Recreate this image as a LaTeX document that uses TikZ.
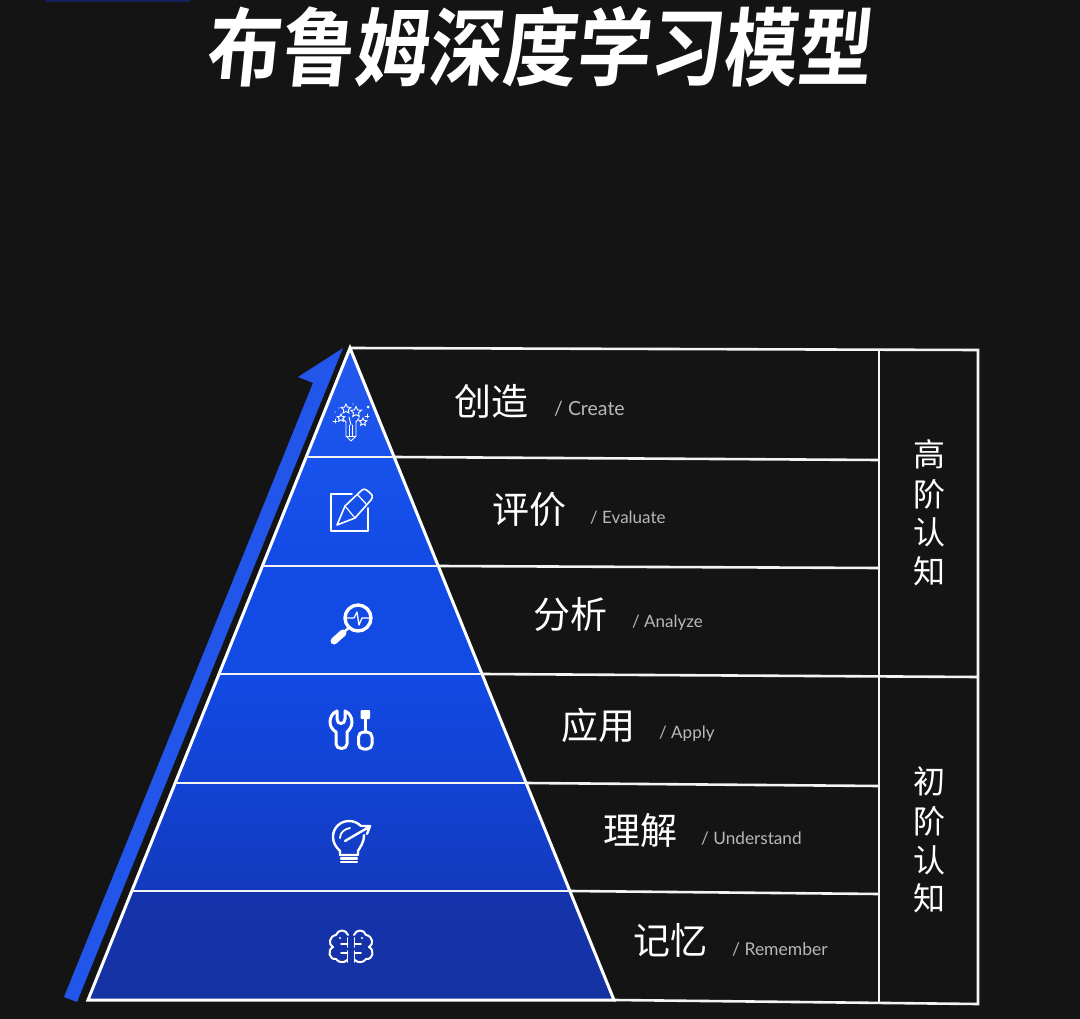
\documentclass[tikz,border=0pt]{standalone}
\usepackage{fontspec}
\usepackage{graphicx}
\usetikzlibrary{shapes.geometric}
\setmainfont{Lato}
\newfontfamily\cjk{Noto Sans CJK SC}
\newfontfamily\cjktitle[FakeSlant=0.12]{Noto Sans CJK SC Bold}
\definecolor{bg}{HTML}{141414}
\definecolor{arrowblue}{HTML}{2255EA}
\definecolor{subgray}{HTML}{B8B8B8}
\definecolor{lineW}{HTML}{F4F4F4}
\definecolor{navy}{HTML}{14205A}
\definecolor{bandA}{HTML}{2559EC}
\definecolor{bandB}{HTML}{1852EC}
\definecolor{bandC}{HTML}{124AE4}
\definecolor{bandD}{HTML}{1242D2}
\definecolor{bandE}{HTML}{133ABE}
\definecolor{bandF}{HTML}{1534AC}
\definecolor{bandG}{HTML}{1532A2}
\tikzset{
  rule/.style={draw=lineW,line width=2.6pt},
  pyr/.style={draw=white,line width=3pt,line join=miter},
  cn/.style={text=white,font=\cjk\fontsize{37}{37}\selectfont,anchor=center,inner sep=0pt},
  en/.style={text=subgray,font=\fontsize{17}{17}\selectfont,anchor=west,inner sep=0pt},
  side/.style={text=white,font=\cjk\fontsize{32}{32}\selectfont,anchor=center,inner sep=0pt},
  ico/.style={draw=white,line cap=round,line join=round,line width=2.4pt},
  icothin/.style={draw=white,line cap=round,line join=round,line width=.9pt},
  stari/.style={star,star points=5,star point ratio=2.1,draw=white,line width=.9pt,inner sep=0pt,minimum size=#1},
}
\begin{document}
\begin{tikzpicture}[x=1pt,y=-1pt]
\useasboundingbox (0,0) rectangle (1080,1019);
\fill[bg] (0,0) rectangle (1080,1019);
\fill[navy] (45,0) rectangle (190,2);
% title
\node[text=white,inner sep=0pt,anchor=center] (title) at (538,47)
  {\scalebox{1}[1.15]{\cjktitle\fontsize{74}{74}\selectfont 布鲁姆深度学习模型}};
% rising arrow
\fill[arrowblue] (64,997) -- (77,1002) -- (343,348) -- (298,377) -- (313,383) -- cycle;
% pyramid bands
\shade[top color=bandA,bottom color=bandB] (350,348) -- (306,457) -- (394,457) -- cycle;
\shade[top color=bandB,bottom color=bandC] (306,457) -- (262,566) -- (438,566) -- (394,457) -- cycle;
\shade[top color=bandC,bottom color=bandC] (262,566) -- (219,674) -- (482,674) -- (438,566) -- cycle;
\shade[top color=bandC,bottom color=bandD] (219,674) -- (175,783) -- (526,783) -- (482,674) -- cycle;
\shade[top color=bandD,bottom color=bandE] (175,783) -- (132,891) -- (570,891) -- (526,783) -- cycle;
\shade[top color=bandF,bottom color=bandG] (132,891) -- (88,1000) -- (614,1000) -- (570,891) -- cycle;
% table rules
\draw[rule] (350,348) -- (978,350) -- (978,1004) -- (614,1000);
\draw[rule] (879,350) -- (879,1003);
\draw[rule] (394,457) -- (879,460);
\draw[rule] (438,566) -- (879,568);
\draw[rule] (482,674) -- (978,677);
\draw[rule] (526,783) -- (879,786);
\draw[rule] (570,891) -- (879,894);
% pyramid outline and bands
\draw[pyr] (350,348) -- (88,1000) -- (614,1000) -- cycle;
\draw[rule] (306,457) -- (394,457);
\draw[rule] (262,566) -- (438,566);
\draw[rule] (219,674) -- (482,674);
\draw[rule] (175,783) -- (526,783);
\draw[rule] (132,891) -- (570,891);
% labels
\node[cn] (l1) at (491,401) {创造};
\node[cn] (l2) at (529,510) {评价};
\node[cn] (l3) at (570,614) {分析};
\node[cn] (l4) at (598,725) {应用};
\node[cn] (l5) at (640,830) {理解};
\node[cn] (l6) at (670,940) {记忆};
\node[en,font=\fontsize{19.5}{19.5}\selectfont] (e1) at (554,409) {/ Create};
\node[en] (e2) at (590,518) {/ Evaluate};
\node[en] (e3) at (632,623) {/ Analyze};
\node[en] (e4) at (659,734) {/ Apply};
\node[en,font=\fontsize{17.2}{17.2}\selectfont] (e5) at (701,839) {/ Understand};
\node[en,font=\fontsize{17.5}{17.5}\selectfont] (e6) at (732,949) {/ Remember};
% side labels
\node[side] (a1) at (929,454) {高};
\node[side] (a2) at (929,494) {阶};
\node[side] (a3) at (929,532) {认};
\node[side] (a4) at (929,571) {知};
\node[side] (b1) at (929,781) {初};
\node[side] (b2) at (929,821) {阶};
\node[side] (b3) at (929,860) {认};
\node[side] (b4) at (929,898) {知};
% icon: create
\node[stari=10pt] (st1) at (346,409) {};
\node[stari=11pt] (st2) at (356,412) {};
\node[stari=8pt] (st3) at (341,418) {};
\node[stari=8pt] (st4) at (363,422) {};
\fill[white] (368,407) circle[radius=1.5];
\draw[icothin] (346,422) -- (346,436) -- (351,441) -- (356,436) -- (356,422);
\draw[icothin] (349.5,425) -- (349.5,436) (352.5,425) -- (352.5,436) (346,436) -- (356,436);
\draw[icothin] (351,425) -- (349,417) (346,422) -- (343,419) (356,422) -- (359,418);
\draw[icothin] (333,421) -- (337,421) (335,419) -- (335,423) (365,416) -- (369,416) (367,414) -- (367,418);
\fill[white] (339,408) circle[radius=.6] (335,412) circle[radius=.6] (362,410) circle[radius=.6] (353,404) circle[radius=.6];
% icon: evaluate
\draw[draw=white,line width=1.6pt,line join=round,line cap=round] (352,494) -- (331,494) -- (331,531) -- (368,531) -- (368,508);
\draw[draw=white,line width=1.6pt,line join=round,line cap=round] (337,525) -- (345,506) -- (362,490) .. controls (365,488) and (367,490) .. (372,495) .. controls (373,497) and (372,498) .. (371,500) -- (355,518) -- cycle;
\draw[draw=white,line width=1.2pt] (345,506) -- (355,518) (357,494) -- (367,505);
% icon: analyze
\draw[ico,line width=3.4pt] (358,618) circle[radius=13];
\draw[draw=white,line width=1.3pt,line join=round] (346,618) -- (354,618) -- (357,612) -- (359,625) -- (362,618) -- (370,618);
\draw[draw=white,line width=2.5pt] (348.5,628) -- (344,632);
\draw[draw=white,line width=7pt,line cap=round] (343,633) -- (334,641);
% icon: apply
\draw[ico,line width=3pt] (337,711) -- (337,719) .. controls (337,725) and (345,725) .. (345,719) -- (345,711)
  .. controls (350,713) and (352,718) .. (352,722) .. controls (352,727) and (349,730) .. (347,732) -- (347,744)
  .. controls (347,750) and (336,750) .. (336,744) -- (336,732) .. controls (333,730) and (330,727) .. (330,722)
  .. controls (330,718) and (332,713) .. (337,711) -- cycle;
\fill[white,rounded corners=1pt] (360.5,710) rectangle (370,719);
\draw[draw=white,line width=3pt] (365,718) -- (365,732);
\draw[ico,line width=3pt,rounded corners=5pt] (358.5,732) -- (372,732) -- (372,749) -- (358.5,749) -- cycle;
% icon: understand
\draw[ico] (340,855) -- (340,851) .. controls (336,847) and (333,843) .. (333,837) .. controls (333,827) and (341,821) .. (349,821) .. controls (354,821) and (358,823) .. (361,826);
\draw[ico] (364,835) .. controls (364,843) and (360,847) .. (358,851) -- (358,855) -- (340,855);
\draw[ico] (345,841) -- (369,827) (362,826) -- (370,826) -- (367,834);
\draw[ico,line width=1.8pt] (340,838) .. controls (340,832) and (345,829) .. (350,828);
\draw[ico] (341,858.5) -- (357,858.5) (341,862) -- (357,862);
% icon: remember
\foreach \s in {1,-1}{
\begin{scope}[shift={(351,0)},xscale=\s]
\draw[draw=white,line width=2pt,line cap=round,line join=round] (3,935) .. controls (5,929) and (13,929) .. (15,935)
  .. controls (22,936) and (23,945) .. (18,947) .. controls (24,950) and (22,960) .. (15,959) .. controls (13,963) and (6,963) .. (4,960);
\draw[draw=white,line width=1.8pt,line cap=round] (3.5,938) -- (3.5,947) (3.5,951) -- (3.5,962) (3.5,944) -- (10,944) (3.5,953) -- (10,953);
\fill[white] (11,938) circle[radius=1.1];
\end{scope}}
\end{tikzpicture}
\end{document}
